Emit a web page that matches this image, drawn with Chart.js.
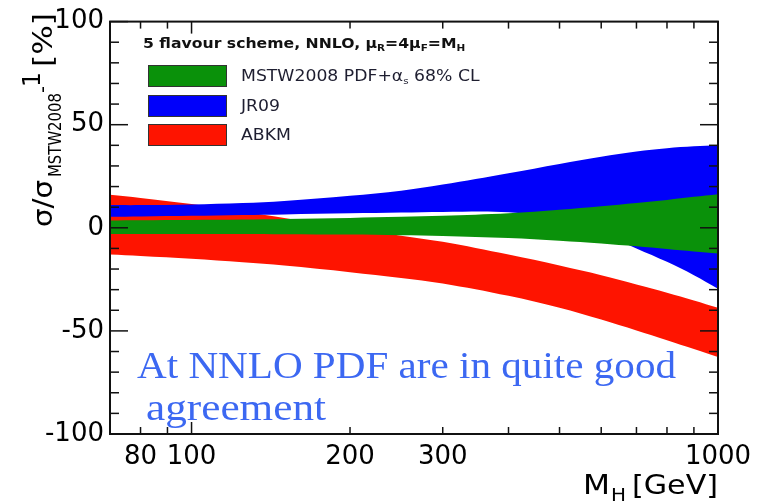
<!DOCTYPE html>
<html>
<head>
<meta charset="utf-8">
<script src="https://cdn.jsdelivr.net/npm/chart.js@4.4.0/dist/chart.umd.min.js"></script>
<style>
  html, body { margin: 0; padding: 0; background: #fff; }
</style>
</head>
<body>
<canvas id="chart" width="765" height="503"></canvas>
<script>
// Higgs mass points (GeV)
const massPoints = [70, 80, 100, 125, 150, 200, 250, 300, 400, 500, 600, 700, 800, 900, 1000];

// MSTW2008 PDF+alphas 68% CL band (%)
const mstwUp   = [3.6, 3.7, 3.8, 4.0, 4.3, 4.8, 5.3, 5.8, 7.0, 8.7, 10.4, 12.0, 13.5, 15.0, 16.3];
const mstwDown = [-3.0, -3.0, -3.0, -3.0, -3.1, -3.3, -3.6, -4.0, -5.0, -6.3, -7.6, -9.0, -10.3, -11.5, -12.5];

// JR09 band (%)
const jrUp   = [11.0, 11.0, 11.3, 12.0, 13.0, 15.5, 18.0, 21.0, 26.5, 31.0, 34.5, 37.0, 38.6, 39.5, 40.0];
const jrDown = [5.3, 5.5, 5.8, 6.2, 6.5, 7.0, 7.4, 7.7, 7.5, 4.0, -2.5, -10.0, -16.5, -23.0, -29.5];

// ABKM band (%)
const abkmUp   = [16.0, 14.5, 11.5, 7.8, 4.8, -0.5, -3.8, -6.8, -13.0, -18.3, -23.0, -27.5, -31.5, -35.2, -38.8];
const abkmDown = [-13.0, -13.7, -15.0, -16.7, -18.3, -21.5, -24.3, -27.0, -33.0, -38.8, -44.5, -49.8, -54.5, -58.8, -62.7];

// axis ticks
const xTickValues = [80, 90, 100, 200, 300, 400, 500, 600, 700, 800, 900, 1000];
const xTickLabels = [80, 100, 200, 300, 1000];
const xMajorTicks = [100, 1000];
const yMinorTicks = [-90, -80, -70, -60, -40, -30, -20, -10, 10, 20, 30, 40, 60, 70, 80, 90];
const yMajorTicks = [-100, -50, 0, 50, 100];

const legendNames = ["MSTW2008 PDF+α", "JR09", "ABKM"];
const bandColors = ["#0a910a", "#0000fa", "#fe1400"];
const noteLines = ["At NNLO PDF are in quite good", "agreement"];

function pts(vals) {
  return massPoints.map((m, i) => ({ x: m, y: vals[i] }));
}

function edge(vals) {
  return { data: pts(vals), borderWidth: 0, pointRadius: 0, fill: false, tension: 0.35 };
}

function band(upVals, color) {
  return { data: pts(upVals), borderWidth: 0, pointRadius: 0, fill: "-1",
           backgroundColor: color, tension: 0.35 };
}

// draw text stretched to a given width
function stretchText(ctx, text, x, y, font, width) {
  ctx.font = font;
  const w = ctx.measureText(text).width;
  ctx.save();
  ctx.translate(x, y);
  ctx.scale(width / w, 1);
  ctx.fillText(text, 0, 0);
  ctx.restore();
}

const decorPlugin = {
  id: "decor",
  afterDraw(chart) {
    const { ctx, chartArea: a, scales: { x, y } } = chart;
    ctx.save();

    // ticks, inward on all four sides
    ctx.strokeStyle = "#111";
    ctx.lineWidth = 1.5;
    const line = (x1, y1, x2, y2) => { ctx.beginPath(); ctx.moveTo(x1, y1); ctx.lineTo(x2, y2); ctx.stroke(); };
    yMinorTicks.concat(yMajorTicks).forEach(v => {
      const py = y.getPixelForValue(v);
      const len = yMajorTicks.includes(v) ? 18 : 9;
      line(a.left, py, a.left + len, py);
      line(a.right, py, a.right - len, py);
    });
    xTickValues.forEach(v => {
      const px = x.getPixelForValue(v);
      const len = xMajorTicks.includes(v) ? 12 : 7;
      line(px, a.bottom, px, a.bottom - len);
      line(px, a.top, px, a.top + len);
    });
    ctx.lineWidth = 2;
    ctx.strokeRect(a.left, a.top, a.right - a.left, a.bottom - a.top);

    // legend header
    ctx.fillStyle = "#111";
    ctx.textAlign = "left";
    ctx.textBaseline = "alphabetic";
    let hx = 143;
    const hy = 48;
    const hs = 1.16;
    const part = (t, font, dy) => {
      ctx.font = font;
      const w = ctx.measureText(t).width * hs;
      ctx.save(); ctx.translate(hx, hy + dy); ctx.scale(hs, 1); ctx.fillText(t, 0, 0); ctx.restore();
      hx += w;
    };
    part("5 flavour scheme, NNLO, μ", "bold 13.5px 'DejaVu Sans'", 0);
    part("R", "bold 9px 'DejaVu Sans'", 3);
    part("=4μ", "bold 13.5px 'DejaVu Sans'", 0);
    part("F", "bold 9px 'DejaVu Sans'", 3);
    part("=M", "bold 13.5px 'DejaVu Sans'", 0);
    part("H", "bold 9px 'DejaVu Sans'", 3);

    // legend boxes and labels
    const boxTops = [65, 95, 124];
    legendNames.forEach((name, i) => {
      ctx.fillStyle = bandColors[i];
      ctx.fillRect(148, boxTops[i], 78, 21);
      ctx.strokeStyle = "#333";
      ctx.lineWidth = 1;
      ctx.strokeRect(148.5, boxTops[i] + 0.5, 78, 21);
      ctx.fillStyle = "#1e1e30";
      const by = boxTops[i] + 16;
      const sx = 1.15;
      let lx = 241;
      const seg = (t, f, dy) => {
        ctx.font = f;
        const w = ctx.measureText(t).width * sx;
        ctx.save(); ctx.translate(lx, by + dy); ctx.scale(sx, 1); ctx.fillText(t, 0, 0); ctx.restore();
        lx += w;
      };
      seg(name, "15px 'DejaVu Sans'", 0);
      if (i === 0) {
        seg("s", "9px 'DejaVu Sans'", 3);
        seg(" 68% CL", "15px 'DejaVu Sans'", 0);
      }
    });

    // y axis title (rotated)
    ctx.fillStyle = "#000";
    ctx.save();
    ctx.translate(52, 227);
    ctx.rotate(-Math.PI / 2);
    stretchText(ctx, "σ/σ", 0, 0, "26px 'DejaVu Sans'", 47);
    stretchText(ctx, "MSTW2008", 50, 9, "17px 'DejaVu Sans'", 84);
    stretchText(ctx, "-", 134, -3, "20px 'DejaVu Sans'", 7);
    stretchText(ctx, "1", 140, -12, "24px 'DejaVu Sans'", 15);
    stretchText(ctx, "[%]", 160, 0, "26px 'DejaVu Sans'", 54);
    ctx.restore();

    // x axis title
    stretchText(ctx, "M", 583, 494, "27px 'DejaVu Sans'", 27);
    stretchText(ctx, "H", 611, 501, "18px 'DejaVu Sans'", 15);
    stretchText(ctx, "[GeV]", 632, 494, "27px 'DejaVu Sans'", 86);

    // annotation
    ctx.fillStyle = "#3c68f2";
    stretchText(ctx, noteLines[0], 137, 378, "37px 'Liberation Serif'", 539);
    stretchText(ctx, noteLines[1], 146, 420, "37px 'Liberation Serif'", 180);

    ctx.restore();
  }
};

new Chart(document.getElementById("chart"), {
  type: "line",
  data: {
    datasets: [
      edge(mstwDown), band(mstwUp, bandColors[0]),
      edge(jrDown), band(jrUp, bandColors[1]),
      edge(abkmDown), band(abkmUp, bandColors[2])
    ]
  },
  options: {
    responsive: false,
    animation: false,
    layout: { padding: { top: 16, right: 47, left: 0, bottom: 0 } },
    plugins: { legend: { display: false }, tooltip: { enabled: false } },
    scales: {
      x: {
        type: "logarithmic",
        min: 70,
        max: 1000,
        grid: { display: false, drawTicks: false },
        border: { display: false },
        afterBuildTicks: axis => { axis.ticks = xTickValues.map(v => ({ value: v })); },
        afterFit: axis => { axis.height = 69; },
        ticks: {
          autoSkip: false,
          maxRotation: 0,
          padding: 8,
          color: "#000",
          font: { family: "'DejaVu Sans'", size: 26 },
          callback: v => xTickLabels.includes(v) ? String(v) : ""
        }
      },
      y: {
        min: -100,
        max: 100,
        grid: { display: false, drawTicks: false },
        border: { display: false },
        afterBuildTicks: axis => { axis.ticks = yMajorTicks.map(v => ({ value: v })); },
        afterFit: axis => { axis.width = 110; },
        ticks: {
          padding: 6,
          color: "#000",
          font: { family: "'DejaVu Sans'", size: 26 }
        }
      }
    }
  },
  plugins: [decorPlugin]
});
</script>
</body>
</html>
